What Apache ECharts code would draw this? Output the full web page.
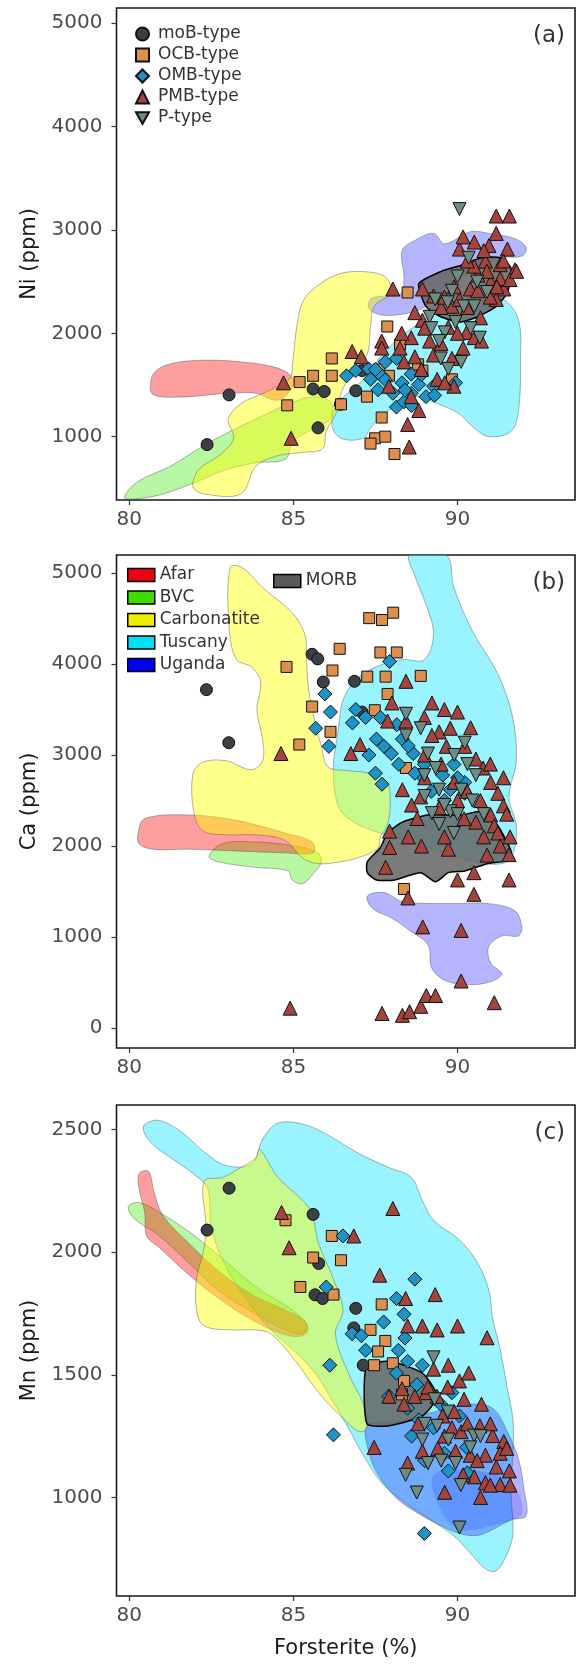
<!DOCTYPE html>
<html>
<head>
<meta charset="utf-8">
<script src="https://cdn.jsdelivr.net/npm/echarts@6.0.0/dist/echarts.min.js"></script>
<style>
  html, body { margin: 0; padding: 0; background: #ffffff; }
  #chart { width: 576px; height: 1673px; }
</style>
</head>
<body>
<div id="chart"></div>
<script>
// ---------- Olivine compositions vs. forsterite content ----------
const typeNames = ['moB-type', 'OCB-type', 'OMB-type', 'PMB-type', 'P-type'];
const regionNames = ['Afar', 'BVC', 'Carbonatite', 'Tuscany', 'Uganda'];
const xTicks = [80, 85, 90];
const niTicks = [1000, 2000, 3000, 4000, 5000];
const caTicks = [0, 1000, 2000, 3000, 4000, 5000];
const mnTicks = [1000, 1500, 2000, 2500];

// ----- (a) Ni: reference fields (Fo, ppm) -----
const niAfar = [[80.64,1488],[80.76,1622],[81.26,1706],[82.28,1740],[83.40,1723],[84.42,1673],[84.93,1589],[84.98,1488],[84.53,1353],[83.86,1420],[82.95,1420],[81.83,1387],[80.92,1387],[80.68,1420]];
const niBVC = [[79.85,412],[80.25,563],[81.26,715],[82.28,916],[83.18,1068],[84.08,1202],[84.87,1320],[85.66,1387],[86.17,1320],[86.11,1168],[85.66,1085],[84.98,950],[84.76,782],[83.86,748],[82.95,681],[82.05,563],[81.04,446],[80.25,400]];
const niCarb = [[87.13,2597],[87.80,2546],[87.97,2395],[87.46,2261],[87.35,2059],[87.24,1790],[86.79,1622],[86.45,1420],[86.34,1253],[86.00,1051],[85.89,883],[85.32,849],[84.53,816],[83.86,715],[83.40,446],[82.28,446],[81.94,513],[82.11,681],[82.73,816],[83.18,984],[83.01,1168],[83.40,1320],[84.08,1420],[84.87,1555],[84.98,1723],[85.10,2059],[85.32,2328],[85.89,2496],[86.45,2580]];
const niTusc = [[90.62,2362],[91.41,2328],[91.86,2126],[91.92,1757],[91.86,1253],[91.63,1051],[90.96,1000],[90.51,1084],[90.06,1219],[89.38,1320],[88.59,1387],[87.91,1253],[87.35,1084],[87.13,984],[86.45,984],[86.17,1118],[86.34,1320],[86.79,1454],[87.24,1589],[87.69,1790],[88.37,1992],[89.15,2160],[89.94,2294]];
const niUg = [[88.31,2799],[88.70,2899],[89.27,2967],[89.61,2866],[90.39,2983],[90.96,2967],[91.75,2916],[92.09,2832],[91.97,2748],[91.30,2731],[90.62,2630],[89.72,2462],[89.04,2261],[88.48,2194],[87.69,2177],[87.29,2244],[87.41,2345],[88.25,2378],[88.37,2530]];
const niMORB = [[88.82,2479],[89.49,2597],[90.17,2664],[90.73,2731],[91.30,2731],[91.63,2630],[91.52,2395],[91.18,2261],[90.62,2160],[90.06,2110],[89.49,2160],[89.04,2261]];

// ----- (a) Ni: olivine analyses -----
const niMoB = [[82.37,923],[83.04,1404],[85.60,1461],[85.94,1437],[85.75,1085],[86.43,1313],[86.90,1444],[87.10,1639]];
const niOCB = [[84.81,1303],[85.19,1528],[85.60,1589],[86.17,1757],[86.17,1589],[86.45,1313],[87.24,1387],[87.69,1185],[87.49,984],[87.80,1000],[87.35,933],[88.08,832],[87.86,2066],[88.48,2395],[87.91,1589],[88.25,1891],[88.93,1639],[89.83,1555],[87.60,1650],[88.80,1700]];
const niOMB = [[86.62,1589],[86.90,1639],[87.58,1454],[87.80,1723],[88.14,1757],[88.03,1420],[88.31,1521],[88.59,1420],[88.82,1505],[89.04,1387],[88.14,1286],[88.37,1337],[87.29,1656],[88.59,1605],[87.69,1589],[89.27,1488],[89.94,1521],[87.35,1555],[87.80,1550],[88.40,1450],[88.90,1600],[87.50,1650],[88.60,1300],[89.30,1400]];
const niPMB = [[84.70,1521],[84.93,984],[86.79,1824],[87.07,1773],[87.69,1925],[88.03,2429],[88.25,1857],[88.37,1723],[88.59,1958],[88.70,1773],[88.93,2429],[88.93,2126],[89.15,1925],[89.27,1790],[89.38,1555],[89.72,2059],[89.83,1757],[89.89,1488],[90.17,1857],[90.28,2009],[90.51,1958],[90.73,1925],[89.83,2261],[90.06,2328],[90.39,2429],[90.62,2563],[90.85,2698],[90.06,2815],[90.51,2883],[91.18,2967],[91.52,2815],[91.75,2614],[91.30,2664],[90.96,2849],[91.18,3135],[91.58,3135],[91.01,2496],[91.41,2429],[90.62,2412],[88.48,1118],[88.59,1387],[87.91,1488],[88.53,900],[87.69,1857],[89.61,1521],[88.82,1253],[89.27,2362],[91.18,2328],[91.30,2530],[90.17,2933],
  [88.70,2200],[89.00,2050],[89.50,2250],[89.90,2450],[90.30,2250],[90.50,2650],[90.90,2600],[91.00,2350],[91.40,2700],[91.60,2520],[91.80,2600],[90.70,2150],[90.30,2700],[89.60,2350],[88.30,2000],[88.90,1650],[89.50,1900],[90.00,2000],[91.20,2450],[90.80,2800]];
const niP = [[90.06,3202],[89.32,2328],[89.83,2412],[90.19,2261],[89.94,2110],[90.68,1958],[90.11,1723],[89.72,1656],[89.49,1757],[90.34,2731],[89.15,2160],[89.61,2009],[90.51,2261],[89.44,1925],[90.00,2550],[90.60,2500],[89.70,2300],[90.40,2050],[90.90,2400],[89.20,2050]];

// ----- (b) Ca: reference fields -----
const caAfar = [[80.27,2143],[80.47,2302],[81.82,2341],[83.27,2282],[84.73,2143],[85.57,2044],[85.61,1925],[84.73,1925],[83.27,1945],[81.82,1965],[80.70,1965],[80.30,2024]];
const caBVC = [[82.43,1885],[82.83,2024],[83.83,2044],[84.96,2004],[85.74,1925],[85.85,1826],[85.63,1707],[85.29,1588],[84.96,1627],[84.84,1726],[83.83,1766],[82.71,1826]];
const caCarb = [[83.07,5060],[83.44,5060],[84.06,4841],[84.96,4564],[85.35,4325],[85.40,4048],[85.46,3730],[85.63,3413],[85.85,3095],[86.05,2870],[86.60,2830],[87.30,2800],[87.85,2700],[87.95,2450],[87.85,2220],[87.65,2100],[87.59,1984],[87.09,1885],[86.41,1826],[85.74,1806],[85.29,1865],[84.73,2064],[83.83,2123],[82.94,2123],[82.26,2163],[81.98,2341],[81.93,2778],[82.21,2917],[82.94,2937],[83.72,2837],[84.06,2937],[84.06,3175],[83.89,3492],[84.00,3810],[83.72,3968],[83.27,4048],[83.05,4365]];
const caTusc = [[88.54,5198],[89.66,5198],[89.89,4841],[90.45,4365],[91.23,3889],[91.68,3413],[91.79,2937],[91.57,2540],[91.79,2222],[91.68,1905],[91.35,1806],[90.56,1826],[89.44,1945],[88.32,2064],[87.31,2183],[86.90,2250],[86.45,2380],[86.25,2620],[86.22,2900],[86.36,3254],[86.52,3611],[86.97,3849],[87.65,3988],[88.32,4048],[88.99,4048],[89.27,4325],[89.05,4643],[88.71,4960]];
const caUg = [[87.25,1449],[87.76,1488],[88.32,1389],[89.22,1369],[90.11,1369],[90.90,1369],[91.74,1290],[91.96,1111],[91.85,1012],[91.35,1012],[90.95,893],[91.01,715],[91.35,595],[91.07,516],[90.45,476],[89.66,516],[89.22,655],[89.10,913],[88.54,1072],[87.98,1211],[87.42,1310]];
const caMORB = [[87.25,1826],[87.65,1984],[87.87,2143],[88.32,2262],[89.10,2341],[90.11,2341],[90.78,2381],[91.23,2222],[91.63,1945],[91.57,1845],[90.90,1806],[90.22,1726],[89.72,1707],[89.33,1607],[88.88,1707],[88.09,1627],[87.53,1627],[87.25,1707]];

// ----- (b) Ca: olivine analyses -----
const caMoB = [[82.35,3718],[83.03,3135],[85.57,4107],[85.74,4056],[85.91,3802],[86.86,3810],[87.09,3472]];
const caOCB = [[84.79,3968],[85.57,3532],[85.18,3115],[86.13,3254],[86.41,4167],[86.19,3929],[87.31,4504],[87.70,4484],[88.04,4564],[87.65,4127],[88.15,4127],[87.25,3861],[87.81,3861],[88.88,3869],[87.87,3671],[87.48,3492],[88.43,2857],[88.37,1528]];
const caOMB = [[85.96,3671],[86.13,3472],[85.68,3294],[86.08,3095],[86.80,3353],[87.53,3175],[87.65,3413],[87.76,3095],[87.98,3016],[88.32,3175],[88.15,3333],[88.65,3016],[88.99,2897],[88.21,2897],[87.70,2679],[87.93,4028],[89.55,2778],[89.89,2897],[90.22,2699],[90.22,2579],[89.78,2619],[88.88,2778],[87.20,3413],
  [87.30,3000],[88.50,3100],[88.70,2800],[89.20,2600],[89.60,2500],[90.00,2750],[86.90,3500],[87.50,2800]];
const caPMB = [[84.62,3016],[84.90,218],[86.75,3016],[87.03,3115],[87.70,159],[88.32,139],[88.54,179],[88.88,238],[89.05,357],[89.33,357],[90.11,516],[91.12,278],[88.94,1111],[90.11,1072],[88.49,1429],[87.81,1766],[87.93,1984],[87.93,2163],[88.77,2302],[89.72,1965],[90.00,1627],[90.50,1707],[90.50,1469],[91.57,1627],[91.57,1905],[88.43,3810],[89.22,3572],[88.00,3572],[87.87,3373],[88.43,3373],[88.99,3413],[90.00,3472],[89.44,3254],[89.66,3095],[90.22,3095],[90.56,2956],[90.78,2857],[91.01,2699],[91.23,2579],[91.40,2441],[91.01,2341],[90.56,2262],[90.00,2500],[89.44,2421],[88.88,2540],[88.32,2619],[91.12,2222],[91.23,2143],[89.22,3214],[89.78,3294],
  [89.50,2900],[89.90,2700],[90.30,2600],[90.70,2500],[91.00,2900],[91.40,2750],[91.50,2350],[91.30,2000],[90.80,2100],[90.20,2300],[89.60,2100],[88.90,2000],[88.50,2100],[88.60,2450],[89.00,2750],[90.40,3300],[89.60,3500],[89.00,3000],[91.60,2100],[90.90,1900]];
const caP = [[88.43,3453],[88.88,3294],[88.43,3214],[89.10,3016],[90.22,3135],[89.33,2857],[89.44,2619],[89.22,2361],[89.44,2242],[89.89,2143],[90.45,2500],[90.11,2619],[89.78,2381],[88.99,2778],[90.56,2778],[89.90,3000],[90.30,2900],[89.60,2450],[90.00,2350],[90.80,2350],[89.00,2550]];

// ----- (c) Mn: reference fields -----
const mnAfar = [[80.30,2321],[80.59,2329],[80.76,2241],[81.04,2146],[81.83,2034],[82.73,1922],[83.74,1827],[84.76,1763],[85.38,1715],[85.38,1667],[84.87,1659],[83.86,1715],[82.73,1811],[81.83,1906],[80.92,2018],[80.53,2066],[80.47,2162],[80.30,2257]];
const mnBVC = [[79.97,2186],[80.30,2202],[80.92,2162],[81.83,2082],[82.73,1986],[83.86,1858],[84.98,1763],[85.43,1699],[85.26,1667],[84.76,1683],[83.86,1747],[82.73,1842],[81.83,1954],[80.92,2066],[80.14,2138]];
const mnCarb = [[83.97,2420],[84.53,2305],[85.49,2177],[85.77,2034],[86.22,1890],[86.51,1763],[86.28,1667],[86.67,1507],[87.13,1380],[87.24,1284],[87.01,1268],[86.56,1316],[85.77,1427],[84.98,1571],[84.31,1667],[83.86,1683],[83.18,1683],[82.28,1699],[82.05,1763],[82.05,1890],[82.28,2018],[82.33,2114],[82.28,2289],[82.84,2305],[83.29,2337],[83.86,2385]];
const mnTusc = [[80.47,2521],[80.92,2537],[81.60,2489],[82.28,2409],[82.95,2353],[83.74,2361],[84.08,2465],[84.53,2526],[85.32,2521],[86.11,2473],[87.01,2401],[87.91,2345],[88.59,2305],[88.93,2210],[89.27,2130],[90.06,2050],[90.62,1954],[90.96,1842],[91.07,1731],[91.30,1603],[91.52,1443],[91.69,1316],[91.69,1188],[91.63,1029],[91.69,853],[91.52,773],[91.18,701],[90.85,709],[90.39,773],[89.94,837],[89.27,901],[88.37,981],[87.69,1060],[87.13,1172],[86.67,1284],[86.11,1412],[85.66,1507],[84.98,1603],[84.31,1683],[83.63,1795],[82.95,1938],[82.50,2098],[82.39,2257],[81.94,2321],[81.26,2385],[80.70,2441],[80.45,2489]];
const mnUg = [[87.24,1292],[88.14,1308],[89.27,1348],[90.39,1380],[91.07,1364],[91.52,1268],[91.86,1156],[92.03,1029],[92.09,925],[91.63,909],[91.07,869],[90.62,845],[90.06,853],[89.49,885],[88.82,933],[88.14,997],[87.58,1092],[87.29,1188]];
const mnUgCore = [[89.27,1092],[90.62,1108],[91.63,1060],[91.97,933],[91.07,885],[90.06,869],[89.49,949]];
const mnMORB = [[87.22,1531],[87.91,1555],[88.93,1507],[89.38,1412],[88.93,1332],[87.91,1292],[87.24,1300]];

// ----- (c) Mn: olivine analyses -----
const mnMoB = [[82.37,2090],[83.04,2261],[85.60,2154],[85.77,1954],[85.66,1826],[85.89,1811],[86.90,1771],[87.13,1539],[86.84,1691]];
const mnOCB = [[84.76,2130],[85.21,1858],[85.60,1978],[86.17,2066],[86.45,1967],[86.22,1827],[87.69,1787],[87.35,1683],[87.80,1638],[87.58,1595],[87.46,1539],[88.03,1547],[88.31,1420],[88.37,1475]];
const mnOMB = [[86.11,1539],[86.22,1255],[86.00,1858],[86.51,2066],[86.79,1667],[87.07,1659],[88.14,1811],[88.37,1747],[88.70,1890],[88.14,1507],[88.48,1555],[88.93,1539],[88.76,1459],[88.48,1364],[88.82,1316],[89.49,1380],[89.83,1427],[90.06,1332],[90.28,1204],[89.72,1108],[88.99,853],[89.27,1284],[87.75,1715],[87.91,1412],
  [88.20,1600],[88.60,1250],[89.00,1150],[89.60,1180],[90.30,1100],[88.40,1650],[87.20,1600]];
const mnPMB = [[84.64,2162],[84.87,2018],[86.84,2066],[88.03,2178],[87.63,1906],[88.42,1811],[88.48,1699],[88.93,1699],[89.32,1827],[89.38,1683],[90.00,1699],[90.90,1651],[89.27,1523],[89.72,1539],[90.06,1475],[90.34,1507],[87.91,1412],[88.31,1443],[88.37,1380],[88.70,1412],[89.04,1427],[89.38,1412],[89.55,1332],[89.83,1284],[90.11,1268],[90.73,1380],[90.68,1292],[91.07,1252],[91.41,1228],[90.85,1172],[91.18,1124],[91.58,1108],[91.30,1052],[90.85,1060],[90.51,1084],[90.17,1092],[89.61,1021],[88.48,1140],[87.46,1204],[89.94,1188],[90.39,1172],[88.93,1188],
  [89.60,1250],[89.90,1350],[90.30,1300],[90.60,1150],[91.00,1300],[91.30,1180],[91.60,1050],[91.00,1050],[90.70,1000],[89.40,1200],[88.80,1300],[89.10,1450],[89.70,1450],[90.20,1400],[91.50,1200]];
const mnP = [[89.27,1571],[88.42,1092],[88.76,1020],[90.06,877],[89.72,1236],[88.93,1236],[89.38,1292],[90.51,1252],[89.10,1140],[89.94,1140],[90.39,1204],[89.50,1150],[89.00,1300],[90.10,1050],[90.70,1250],[89.70,1350],[89.30,1400]];

// ---------- styling ----------
const FONT = 'DejaVu Sans';
const typeStyle = {
  'moB-type': { symbol: 'circle',   size: 12, color: '#3b4045' },
  'OCB-type': { symbol: 'rect',     size: 11, color: '#dd8f4e' },
  'OMB-type': { symbol: 'diamond',  size: 14, color: '#1f93c6' },
  'PMB-type': { symbol: 'triangle', size: 14, color: '#a4443f' },
  'P-type':   { symbol: 'triangle', size: 13, color: '#6f8c84', rotate: 180 }
};
const regionStyle = {
  'Afar':        { fill: 'rgba(255,0,0,0.38)',   key: '#ee0016', smooth: 0.35 },
  'BVC':         { fill: 'rgba(60,235,0,0.36)',  key: '#3ddd00', smooth: 0.35 },
  'Carbonatite': { fill: 'rgba(255,255,0,0.45)', key: '#eeee00', smooth: 0.35 },
  'Tuscany':     { fill: 'rgba(0,228,255,0.40)', key: '#00e0f0', smooth: 0.35 },
  'Uganda':      { fill: 'rgba(30,30,255,0.33)', key: '#0000ee', smooth: 0.35 },
  'MORB':        { fill: 'rgba(100,100,100,0.85)', key: '#5a5a5a', smooth: 0.2 }
};
// drawing order of the shaded fields (bottom to top)
const fieldOrder = ['Tuscany', 'Uganda', 'BVC', 'Afar', 'Carbonatite', 'MORB'];

const panels = [
  { top: 8,    height: 492, yMin: 387, yMax: 5148, ticks: niTicks, yName: 'Ni (ppm)', tag: '(a)',
    regions: { Afar: [niAfar], BVC: [niBVC], Carbonatite: [niCarb], Tuscany: [niTusc], Uganda: [niUg], MORB: [niMORB] },
    points: [niMoB, niOCB, niOMB, niPMB, niP] },
  { top: 555,  height: 493, yMin: -220, yMax: 5198, ticks: caTicks, yName: 'Ca (ppm)', tag: '(b)',
    regions: { Afar: [caAfar], BVC: [caBVC], Carbonatite: [caCarb], Tuscany: [caTusc], Uganda: [caUg], MORB: [caMORB] },
    points: [caMoB, caOCB, caOMB, caPMB, caP] },
  { top: 1105, height: 491, yMin: 598, yMax: 2600, ticks: mnTicks, yName: 'Mn (ppm)', tag: '(c)',
    regions: { Afar: [mnAfar], BVC: [mnBVC], Carbonatite: [mnCarb], Tuscany: [mnTusc], Uganda: [mnUg, mnUgCore], MORB: [mnMORB] },
    points: [mnMoB, mnOCB, mnOMB, mnPMB, mnP] }
];

const X_MIN = 79.61, X_MAX = 93.58;
const grids = [], xAxes = [], yAxes = [], series = [], titles = [];
const plain = v => String(v);

panels.forEach((p, i) => {
  grids.push({ left: 116.5, width: 458.5, top: p.top, height: p.height,
    show: true, borderColor: '#1a1a1a', borderWidth: 1.6, backgroundColor: '#ffffff' });
  xAxes.push({
    type: 'value', gridIndex: i, min: X_MIN, max: X_MAX,
    axisLine: { show: false, onZero: false }, splitLine: { show: false },
    axisTick: { show: true, length: 5, customValues: xTicks, lineStyle: { color: '#333', width: 1.2 } },
    axisLabel: { customValues: xTicks, formatter: plain, margin: 10, fontFamily: FONT, fontSize: 20, color: '#4d4d4d' },
    name: i === 2 ? 'Forsterite (%)' : '', nameLocation: 'middle', nameGap: 42,
    nameTextStyle: { fontFamily: FONT, fontSize: 21, color: '#1a1a1a' }
  });
  yAxes.push({
    type: 'value', gridIndex: i, min: p.yMin, max: p.yMax,
    axisLine: { show: false, onZero: false }, splitLine: { show: false },
    axisTick: { show: true, length: 5, customValues: p.ticks, lineStyle: { color: '#333', width: 1.2 } },
    axisLabel: { customValues: p.ticks, formatter: plain, margin: 14, fontFamily: FONT, fontSize: 20, color: '#4d4d4d' },
    name: p.yName, nameLocation: 'middle', nameGap: 76, nameRotate: 90,
    nameTextStyle: { fontFamily: FONT, fontSize: 21, color: '#1a1a1a' }
  });

  // shaded reference fields
  fieldOrder.forEach((name, k) => {
    const rings = p.regions[name];
    const st = regionStyle[name];
    const isMorb = name === 'MORB';
    series.push({
      type: 'custom', name: name, xAxisIndex: i, yAxisIndex: i, clip: true, silent: true,
      z: 1 + k * 0.01,
      itemStyle: { color: st.key, borderColor: '#000', borderWidth: 1.5 },
      data: rings.flat(),
      encode: { x: 0, y: 1 },
      renderItem: function (params, api) {
        if (params.dataIndex !== 0) return null;
        return {
          type: 'group',
          children: rings.map((r, j) => ({
            type: 'polygon',
            shape: { points: r.map(pt => api.coord(pt)), smooth: st.smooth },
            style: {
              fill: j === 0 ? st.fill : 'rgba(0,0,255,0.14)',
              stroke: isMorb ? '#000000' : (j === 0 ? 'rgba(70,90,90,0.45)' : 'none'),
              lineWidth: isMorb ? 1.5 : 1
            }
          }))
        };
      }
    });
  });

  // olivine analyses
  typeNames.forEach((name, k) => {
    const ts = typeStyle[name];
    series.push({
      type: 'scatter', name: name, xAxisIndex: i, yAxisIndex: i, z: 3,
      symbol: ts.symbol, symbolSize: ts.size, symbolRotate: ts.rotate || 0,
      itemStyle: { color: ts.color, borderColor: '#111', borderWidth: 1, opacity: 1 },
      emphasis: { disabled: true },
      data: p.points[k]
    });
  });

  titles.push({ text: p.tag, right: 11, top: p.top + 17, padding: 0,
    textStyle: { fontFamily: FONT, fontSize: 23, fontWeight: 'normal', color: '#333' } });
});

const chart = echarts.init(document.getElementById('chart'), null, { renderer: 'canvas' });
chart.setOption({
  animation: false,
  backgroundColor: '#ffffff',
  title: titles,
  grid: grids,
  xAxis: xAxes,
  yAxis: yAxes,
  legend: [
    { data: typeNames.map(n => n === 'P-type'
        ? { name: n, icon: 'path://M0,0L20,0L10,18Z' }
        : { name: n }),
      orient: 'vertical', left: 130, top: 20, itemWidth: 13, itemHeight: 13, itemGap: 3,
      selectedMode: false,
      textStyle: { fontFamily: FONT, fontSize: 17, color: '#333', lineHeight: 18, padding: [0, 0, 0, 4] } },
    { data: regionNames.map(n => ({ name: n, icon: 'rect',
        itemStyle: { color: regionStyle[n].key, borderColor: '#000', borderWidth: 1.5 } })),
      orient: 'vertical', left: 122, top: 561, itemWidth: 27, itemHeight: 13, itemGap: 4.5,
      selectedMode: false,
      textStyle: { fontFamily: FONT, fontSize: 17, color: '#333', lineHeight: 18 } },
    { data: [{ name: 'MORB', icon: 'rect',
        itemStyle: { color: regionStyle.MORB.key, borderColor: '#000', borderWidth: 1.5 } }],
      orient: 'vertical', left: 268, top: 567, itemWidth: 27, itemHeight: 13,
      selectedMode: false,
      textStyle: { fontFamily: FONT, fontSize: 17, color: '#333', lineHeight: 18 } }
  ],
  series: series
});
</script>
</body>
</html>
